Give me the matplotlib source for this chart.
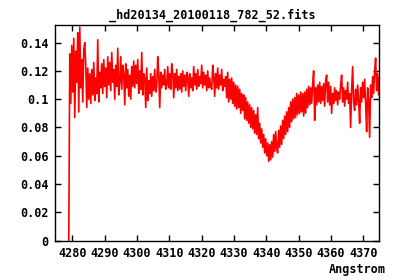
import numpy as np
import matplotlib
matplotlib.use("Agg")
import matplotlib.pyplot as plt

title = "_hd20134_20100118_782_52.fits"
x_label = "Angstrom"

# wavelength grid of the spectrum (start, step in Angstrom)
wave_start = 4278.9
wave_step = 0.3093

flux = [
    0.000, 0.132, 0.097, 0.138, 0.105, 0.143, 0.087, 0.134, 0.112, 0.147,
    0.091, 0.151, 0.108, 0.128, 0.098, 0.135, 0.140, 0.124, 0.094, 0.122,
    0.100, 0.118, 0.097, 0.121, 0.103, 0.126, 0.099, 0.115, 0.104, 0.142,
    0.098, 0.119, 0.108, 0.125, 0.104, 0.128, 0.109, 0.122, 0.101, 0.130,
    0.110, 0.126, 0.106, 0.133, 0.112, 0.121, 0.100, 0.124, 0.109, 0.136,
    0.103, 0.112, 0.130, 0.107, 0.124, 0.118, 0.096, 0.125, 0.108, 0.121,
    0.102, 0.117, 0.100, 0.123, 0.109, 0.127, 0.108, 0.124, 0.111, 0.128,
    0.104, 0.120, 0.107, 0.133, 0.103, 0.118, 0.115, 0.094, 0.122, 0.099,
    0.113, 0.104, 0.118, 0.102, 0.116, 0.106, 0.121, 0.105, 0.109, 0.130,
    0.118, 0.094, 0.119, 0.108, 0.117, 0.110, 0.121, 0.107, 0.110, 0.123,
    0.108, 0.118, 0.107, 0.125, 0.119, 0.101, 0.118, 0.108, 0.121, 0.106,
    0.116, 0.107, 0.118, 0.105, 0.120, 0.109, 0.117, 0.106, 0.119, 0.116,
    0.102, 0.118, 0.108, 0.115, 0.106, 0.123, 0.110, 0.118, 0.107, 0.121,
    0.109, 0.116, 0.111, 0.124, 0.108, 0.119, 0.110, 0.117, 0.106, 0.120,
    0.108, 0.115, 0.109, 0.107, 0.124, 0.116, 0.102, 0.118, 0.108, 0.122,
    0.107, 0.117, 0.110, 0.121, 0.106, 0.114, 0.109,
    0.116, 0.101, 0.119, 0.098, 0.114, 0.100, 0.115, 0.097, 0.112, 0.095,
    0.110, 0.093, 0.109, 0.094,
    0.107, 0.090, 0.104, 0.092, 0.103, 0.086, 0.101, 0.085, 0.098, 0.083,
    0.096, 0.080, 0.094, 0.079, 0.092, 0.076, 0.089, 0.075, 0.094, 0.072,
    0.083, 0.069, 0.079, 0.066, 0.075, 0.062, 0.072, 0.060, 0.069, 0.056,
    0.068, 0.057, 0.070, 0.059, 0.075, 0.063, 0.077, 0.065,
    0.062, 0.078, 0.066, 0.081, 0.068, 0.085, 0.072, 0.088, 0.075, 0.091,
    0.077, 0.094,
    0.080, 0.098, 0.084, 0.100, 0.086, 0.101, 0.087, 0.104, 0.089, 0.103,
    0.090, 0.105,
    0.091, 0.104, 0.088, 0.105, 0.090, 0.107, 0.094, 0.109, 0.096, 0.108,
    0.097, 0.111,
    0.120, 0.085, 0.108, 0.096, 0.110, 0.098, 0.112, 0.097, 0.109, 0.099,
    0.111, 0.095, 0.113, 0.117, 0.098, 0.112, 0.096, 0.109,
    0.090, 0.104, 0.097, 0.108, 0.099, 0.106, 0.096,
    0.105, 0.100, 0.110, 0.117, 0.098, 0.108, 0.095, 0.106, 0.100, 0.112,
    0.097, 0.104, 0.080, 0.106, 0.123, 0.098, 0.092, 0.107, 0.096, 0.110,
    0.099, 0.083, 0.108, 0.098, 0.112, 0.101, 0.114, 0.097, 0.077, 0.108,
    0.099, 0.073, 0.110, 0.101, 0.116, 0.104, 0.120, 0.129, 0.106, 0.118,
    0.103, 0.115,
]

x_ticks = [4280, 4290, 4300, 4310, 4320, 4330, 4340, 4350, 4360, 4370]
y_ticks = [0, 0.02, 0.04, 0.06, 0.08, 0.1, 0.12, 0.14]
y_tick_labels = ["0", "0.02", "0.04", "0.06", "0.08", "0.1", "0.12", "0.14"]

wave = wave_start + wave_step * np.arange(len(flux))

font = dict(family="DejaVu Sans Mono", weight="bold", size=8.5)

fig = plt.figure(figsize=(4.0, 2.8), dpi=100)
ax = fig.add_axes([0.138, 0.141, 0.8095, 0.770])
ax.plot(wave, flux, color="#ff0000", lw=1.2)

ax.set_xlim(4274.7, 4374.9)
ax.set_ylim(0, 0.1525)
ax.set_xticks(x_ticks)
ax.set_xticklabels([str(t) for t in x_ticks], **font)
ax.set_yticks(y_ticks)
ax.set_yticklabels(y_tick_labels, **font)
ax.tick_params(direction="in", length=4, width=1, top=True, right=True,
               colors="black")
ax.tick_params(axis="x", pad=5)
ax.tick_params(axis="y", pad=5)
for s in ax.spines.values():
    s.set_linewidth(1.0)
    s.set_color("black")

fig.text(212 / 400, 1 - 15 / 280, title, ha="center", va="center", **font)
fig.text(386 / 400, 1 - 270 / 280, x_label, ha="right", va="center", **font)

fig.savefig("out.png", dpi=100)
